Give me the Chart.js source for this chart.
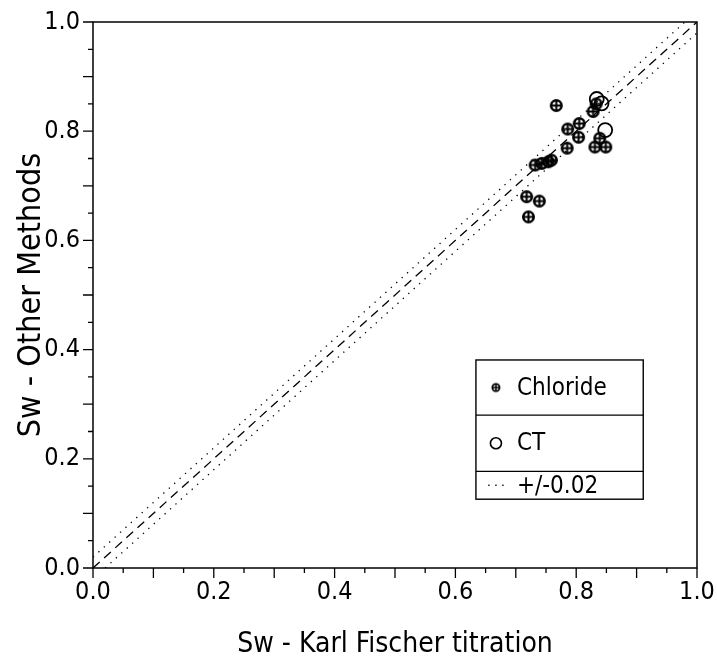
<!DOCTYPE html>
<html><head><meta charset="utf-8">
<script src="https://cdn.jsdelivr.net/npm/chart.js@4/dist/chart.umd.min.js"></script>
<style>html,body{margin:0;padding:0;background:#fff;}#wrap{width:717px;height:663px;}</style>
</head><body><div id="wrap"><canvas id="c" width="717" height="663"></canvas></div>
<script>
// ---- data ----
const chlorideX = [0.767, 0.833, 0.828, 0.786, 0.805, 0.804, 0.839, 0.831, 0.849, 0.785, 0.732, 0.743, 0.754, 0.759, 0.718, 0.739, 0.721];
const chlorideY = [0.847, 0.850, 0.836, 0.804, 0.814, 0.789, 0.787, 0.771, 0.771, 0.769, 0.738, 0.741, 0.744, 0.747, 0.680, 0.672, 0.643];
const ctX = [0.834, 0.842, 0.848];
const ctY = [0.859, 0.851, 0.802];
const identityX = [0, 1];
const identityY = [0, 1];
const upperX = [0, 0.98];
const upperY = [0.02, 1];
const lowerX = [0.02, 1];
const lowerY = [0, 0.98];
const tickLabels = ['0.0', '0.2', '0.4', '0.6', '0.8', '1.0'];
const legendLabels = ['Chloride', 'CT', '+/-0.02'];
const xTitle = 'Sw - Karl Fischer titration';
const yTitle = 'Sw - Other Methods';

const pts = (xs, ys) => xs.map((x, i) => ({x, y: ys[i]}));

const TXT = "'Liberation Sans Narrow','DejaVu Sans Condensed',sans-serif";
const INK = '#000';

function chlorideMarker(r, lw) {
  const s = Math.ceil(2 * r + 6), c = s / 2;
  const cv = document.createElement('canvas');
  cv.width = s; cv.height = s;
  const g = cv.getContext('2d');
  g.strokeStyle = INK;
  g.lineWidth = lw;
  g.beginPath(); g.arc(c, c, r, 0, Math.PI * 2); g.stroke();
  g.lineWidth = lw * 0.8;
  g.beginPath();
  g.moveTo(c - r, c); g.lineTo(c + r, c);
  g.moveTo(c, c - r); g.lineTo(c, c + r);
  g.stroke();
  return cv;
}
const chlMark = chlorideMarker(5.2, 2.6);
const chlMarkSmall = chlorideMarker(3.6, 1.8);

const frameTicks = {
  id: 'frameTicks',
  afterDraw(chart) {
    const {ctx, chartArea: a, scales: {x, y}} = chart;
    ctx.save();
    ctx.strokeStyle = INK;
    ctx.lineWidth = 1.5;
    ctx.strokeRect(a.left, a.top, a.right - a.left, a.bottom - a.top);
    ctx.lineWidth = 1.3;
    for (let i = 0; i <= 20; i++) {
      const v = i * 0.05;
      const len = i % 2 === 0 ? 10 : 5;
      const px = x.getPixelForValue(v);
      const py = y.getPixelForValue(v);
      ctx.beginPath();
      ctx.moveTo(px, a.bottom); ctx.lineTo(px, a.bottom + len);
      ctx.moveTo(a.left, py); ctx.lineTo(a.left - len, py);
      ctx.stroke();
    }
    // legend box
    const L = x.getPixelForValue(0.634), R = x.getPixelForValue(0.911);
    const rows = [0.381, 0.280, 0.177, 0.126].map(v => y.getPixelForValue(v));
    ctx.fillStyle = '#fff';
    ctx.fillRect(L, rows[0], R - L, rows[3] - rows[0]);
    ctx.lineWidth = 1.4;
    ctx.strokeRect(L, rows[0], R - L, rows[3] - rows[0]);
    ctx.beginPath();
    ctx.moveTo(L, rows[1]); ctx.lineTo(R, rows[1]);
    ctx.moveTo(L, rows[2]); ctx.lineTo(R, rows[2]);
    ctx.stroke();
    const symX = L + 20, txtX = L + 41;
    const cy = [(rows[0] + rows[1]) / 2, (rows[1] + rows[2]) / 2, (rows[2] + rows[3]) / 2];
    ctx.drawImage(chlMarkSmall, symX - chlMarkSmall.width / 2, cy[0] - chlMarkSmall.height / 2);
    ctx.lineWidth = 1.6;
    ctx.beginPath(); ctx.arc(symX, cy[1], 5.5, 0, Math.PI * 2); ctx.stroke();
    ctx.fillStyle = INK;
    for (let k = -1; k <= 1; k++) { ctx.fillRect(symX + k * 7 - 0.7, cy[2] - 0.7, 1.4, 1.4); }
    ctx.font = "24px " + TXT;
    ctx.textBaseline = 'middle';
    ctx.textAlign = 'left';
    legendLabels.forEach((t, i) => ctx.fillText(t, txtX, cy[i] + 1));
    ctx.restore();
  }
};

new Chart(document.getElementById('c'), {
  type: 'scatter',
  data: {
    datasets: [
      {label: '1:1', data: pts(identityX, identityY), showLine: true, borderColor: INK, borderWidth: 1.3, borderDash: [9, 6], pointRadius: 0, order: 5},
      {label: '+0.02', data: pts(upperX, upperY), showLine: true, borderColor: INK, borderWidth: 1.3, borderDash: [1.3, 6], pointRadius: 0, order: 5},
      {label: '-0.02', data: pts(lowerX, lowerY), showLine: true, borderColor: INK, borderWidth: 1.3, borderDash: [1.3, 6], pointRadius: 0, order: 5},
      {label: legendLabels[1], data: pts(ctX, ctY), pointStyle: 'circle', pointRadius: 7, borderColor: INK, borderWidth: 1.8, backgroundColor: 'rgba(0,0,0,0)', order: 2},
      {label: legendLabels[0], data: pts(chlorideX, chlorideY), pointStyle: chlMark, pointRadius: 5, order: 1}
    ]
  },
  options: {
    responsive: false,
    animation: false,
    devicePixelRatio: 1,
    layout: {padding: {left: 6, right: 20, top: 22, bottom: 0}},
    plugins: {legend: {display: false}, tooltip: {enabled: false}},
    scales: {
      x: {
        type: 'linear', min: 0, max: 1,
        grid: {display: false, drawTicks: false},
        border: {display: false},
        ticks: {
          stepSize: 0.05, autoSkip: false, maxRotation: 0, padding: 9,
          color: INK, font: {family: TXT, size: 25},
          callback: v => { const i = Math.round(v * 100); return i % 20 === 0 ? tickLabels[i / 20] : ''; }
        },
        title: {display: true, text: xTitle, color: INK, font: {family: TXT, size: 28}, padding: {top: 0, bottom: 1}},
        afterFit: s => { s.height = 95; s.paddingLeft = 0; s.paddingRight = 0; }
      },
      y: {
        type: 'linear', min: 0, max: 1,
        grid: {display: false, drawTicks: false},
        border: {display: false},
        ticks: {
          stepSize: 0.05, autoSkip: false, padding: 13,
          color: INK, font: {family: TXT, size: 25},
          callback: v => { const i = Math.round(v * 100); return i % 20 === 0 ? tickLabels[i / 20] : ''; }
        },
        title: {display: true, text: yTitle, color: INK, font: {family: TXT, size: 32}, padding: {top: 6, bottom: 0}},
        afterFit: s => { s.width = 87; s.paddingTop = 0; s.paddingBottom = 0; }
      }
    }
  },
  plugins: [frameTicks]
});
</script></body></html>
